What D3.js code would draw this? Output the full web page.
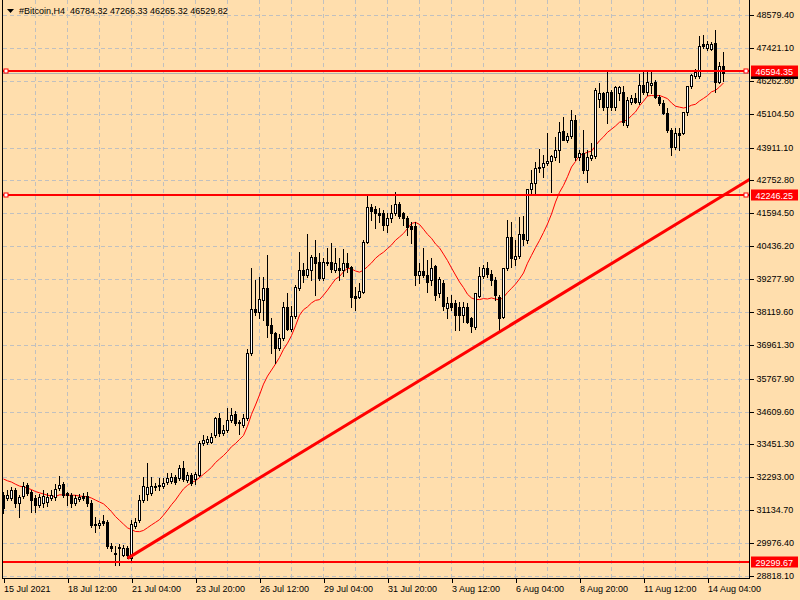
<!DOCTYPE html>
<html><head><meta charset="utf-8">
<script src="https://cdn.jsdelivr.net/npm/d3@7"></script>
<style>
html,body{margin:0;padding:0;background:#FFDEAD;}
svg{display:block;}
text{font-family:"Liberation Sans",Arial,sans-serif;font-size:9px;}
</style>
</head><body>
<svg id="chart" width="800" height="600"></svg>
<script>
const symbol = "#Bitcoin,H4";
const tickLabels = ["15 Jul 2021","18 Jul 12:00","21 Jul 04:00","23 Jul 20:00","26 Jul 12:00","29 Jul 04:00","31 Jul 20:00","3 Aug 12:00","6 Aug 04:00","8 Aug 20:00","11 Aug 12:00","14 Aug 04:00"];
const tickBars = [0,16,32,48,64,80,96,112,128,144,160,176];
const gridBars = [8,16,24,32,40,48,56,64,72,80,88,96,104,112,120,128,136,144,152,160,168,176,184];
const priceTicks = [48579.40,47421.10,46262.80,45104.50,43911.10,42752.80,41594.50,40436.20,39277.90,38119.60,36961.30,35767.90,34609.60,33451.30,32293.00,31134.70,29976.40,28818.10];
const hLines = [46594.35, 42246.25, 29299.67];
const hLineMarked = [true, true, false];
const trendPoints = [{bar:31, price:29440},{bar:124, price:37420}];
const maPeriod = 14;
const preCloses = [32552,32482,32446,32517,32446,32305,32235,32270,32200,32235,32200,32094,32094];

const opens = [31672,31566,31566,31848,31389,31637,32024,31778,31566,31319,31389,31425,31566,31601,31918,32059,31742,31672,31389,31531,31637,31637,31389,30650,30615,30756,30721,29875,29593,29839,29558,29804,29452,30580,30791,31495,31707,31742,31989,31989,31989,32130,32165,32305,32270,32623,32200,32376,32235,32376,33503,33539,33539,33785,34384,33855,33961,34314,34525,34244,34138,34384,36673,38223,38118,38540,38963,37660,37378,36849,37202,38294,37519,37977,38963,39597,39421,39597,40055,39879,39315,39879,39879,39597,39667,39597,39844,39703,38681,38646,38823,40584,41816,41746,41605,41605,41182,41429,41605,41922,41605,41429,41147,41147,39421,39562,39421,39245,39738,38787,39139,38258,38435,38435,38294,38012,38294,37906,37589,38681,39386,39667,39456,39245,38646,37941,39667,40759,39985,40091,40865,40654,42450,42661,43190,43226,43367,43437,43578,43824,44494,44176,44317,44881,43578,43718,43120,43542,43613,45620,45832,45339,45868,45339,45832,45868,44705,45515,45656,45515,46114,45868,46114,46219,45691,45480,45128,44529,43929,44423,44423,45163,46079,46431,46431,47558,47417,47382,47593,46219,46784.32];
const highs = [31778,31848,31953,31918,31672,32130,32094,31848,31672,31707,31848,31742,31848,32059,32341,32130,31778,31742,31672,31707,31742,31778,31495,30896,30791,30967,30791,29980,29875,29945,29910,29875,30791,30861,31672,32305,32799,32305,32094,32270,32270,32446,32446,32376,32729,32870,32482,32446,32482,33574,33785,33750,33855,34419,34560,34138,34736,34736,34631,34314,34525,36815,39667,39245,39350,39350,40126,37906,37414,37343,38470,38787,38329,39069,40231,39844,40865,40126,40654,40196,40020,40372,40548,40372,40020,40337,40196,39738,38998,39139,40654,42239,41922,41852,41781,41711,41605,41887,42345,41993,41640,41499,41288,41288,39844,40372,39949,40020,39773,39350,39245,38646,38717,38540,38470,38470,38435,37941,38787,39703,39773,39879,39597,39350,38700,39667,41358,41288,40654,41464,41499,42450,43120,43402,43859,43648,44423,43648,44282,44810,44986,44423,45233,45057,43824,44529,43824,44071,46008,46184,45868,46642,45938,46079,46079,46079,45691,45762,45832,46502,46572,46642,46642,46290,45762,45585,45304,44599,44599,44599,45163,46079,46502,46677,47840,47875,47664,47629,48051,46924,47266.33];
const lows = [31037,31495,31495,31248,30896,31566,31672,31073,31073,31248,31248,31284,31495,31495,31848,31601,31319,31248,31319,31460,31495,31284,30544,30369,30509,30615,29804,29699,29206,29206,29523,29452,29382,30509,30721,31425,31495,31672,31848,31848,31918,32059,32094,32059,32200,32165,32130,32024,32059,32341,33433,33468,33503,33714,33750,33785,33891,34244,34138,33820,34067,34314,36603,38012,37906,37836,37237,36673,36322,36779,37132,37484,37449,37906,38893,39175,39350,39245,38717,39245,39245,39773,39527,39527,39245,39386,39527,38294,38188,38611,38787,40548,41358,41077,41288,41006,40936,41288,41535,41429,41182,40830,40548,39069,39139,39350,38823,39069,38540,38646,38188,37906,38188,37484,37484,37765,37730,37414,37519,38646,39315,39350,39069,38540,37484,37906,39597,39703,39773,40020,40478,40548,42309,42309,43050,42873,43296,42345,43472,43402,44176,44106,44247,43472,43472,43014,42697,43472,43542,45339,45233,44775,45233,45233,45585,44705,44635,45445,45480,45445,45797,45762,45832,45656,45409,45093,44458,43648,43859,43824,44388,45057,46008,46360,46360,47417,47347,47347,45868,46184,46265.32];
const closes = [31213,31672,31848,31389,31601,31989,31742,31495,31319,31601,31637,31601,31672,31883,32024,31672,31672,31389,31566,31601,31566,31389,30615,30615,30685,30685,29875,29804,29628,29804,29804,29558,30650,30721,31495,31989,31953,31989,31953,32024,32094,32270,32305,32130,32623,32235,32376,32094,32411,33503,33609,33644,33714,34384,33855,33961,34314,34490,34208,34208,34384,36673,38223,38118,38576,38963,37660,37378,36849,37202,38294,37519,37977,38998,39597,39421,39632,40055,39844,39315,39879,39844,39632,39844,39597,39844,39703,38646,38611,38858,40584,41816,41676,41605,41535,41182,41429,41605,41922,41499,41429,41112,41041,39421,39562,39421,39175,39667,38717,39280,38329,38435,38294,38012,38012,38294,37765,37624,38787,39386,39667,39456,39245,38717,37906,39667,40759,40020,40091,40865,40689,42450,42661,43190,43226,43367,43437,43613,43824,44458,44176,44317,44881,43578,43718,43120,43578,43648,45938,45832,45339,45868,45339,46043,46043,44810,45585,45656,45515,46114,45868,46219,46184,45691,45480,45128,44529,43929,44423,44353,45163,46079,46466,46572,47488,47488,47558,47558,46219,46783,46529.82];

const svg = d3.select("#chart");
const plot = {left:2.5, right:749.5, top:0, bottom:578.5};
const n = closes.length;
const x = d3.scaleLinear().domain([0, n-1]).range([3.5, 3.5 + 4*(n-1)]);
const y = d3.scaleLinear().domain([28818.1, 48579.4]).range([576, 15]);
const yp = v => Math.round(y(v)) + 0.5;
const fmt = d3.format(".2f");

svg.append("rect").attr("width",800).attr("height",600).attr("fill","#FFDEAD");

svg.append("defs").append("clipPath").attr("id","clip")
  .append("rect").attr("x",plot.left+0.5).attr("y",0).attr("width",plot.right-plot.left-1).attr("height",plot.bottom);

const grid = svg.append("g").attr("stroke","#c0c0c0").attr("stroke-dasharray","4,3").attr("shape-rendering","crispEdges");
grid.selectAll("line.h").data(priceTicks).join("line").attr("class","h")
  .attr("x1",plot.left).attr("x2",plot.right).attr("y1",d=>yp(d)).attr("y2",d=>yp(d));
grid.selectAll("line.v").data(gridBars).join("line").attr("class","v")
  .attr("x1",d=>x(d)).attr("x2",d=>x(d)).attr("y1",plot.top).attr("y2",plot.bottom);

const g = svg.append("g").attr("clip-path","url(#clip)");

// bid line
g.append("line").attr("x1",plot.left).attr("x2",plot.right)
  .attr("y1",yp(closes[n-1])).attr("y2",yp(closes[n-1]))
  .attr("stroke","#b0b0b0").attr("shape-rendering","crispEdges");

// moving average of closes
const all = preCloses.concat(closes);
const ma = closes.map((c,i)=> d3.mean(all.slice(i+preCloses.length-maPeriod+1, i+preCloses.length+1)));
g.append("path").datum(ma)
  .attr("d", d3.line().x((d,i)=>x(i)).y(d=>y(d)))
  .attr("fill","none").attr("stroke","#ff0000").attr("stroke-width",1);

// candles
const idx = d3.range(n);
const cg = g.append("g").attr("shape-rendering","crispEdges");
cg.selectAll("line.w").data(idx).join("line").attr("class","w")
  .attr("x1",i=>x(i)).attr("x2",i=>x(i))
  .attr("y1",i=>Math.round(y(highs[i]))).attr("y2",i=>Math.round(y(lows[i]))+1)
  .attr("stroke","#000");
cg.selectAll("rect.b").data(idx).join("rect").attr("class","b")
  .attr("x",i=>x(i)-1).attr("width",2)
  .attr("y",i=>Math.round(y(Math.max(opens[i],closes[i])))+0.5)
  .attr("height",i=>Math.max(0, Math.round(y(Math.min(opens[i],closes[i]))) - Math.round(y(Math.max(opens[i],closes[i])))))
  .attr("fill",i=> closes[i]>=opens[i] ? "#ffffff" : "#000000")
  .attr("stroke","#000").attr("stroke-width",1);

// horizontal lines
g.selectAll("line.hl").data(hLines).join("line").attr("class","hl")
  .attr("x1",plot.left).attr("x2",plot.right)
  .attr("y1",d=>Math.round(y(d))).attr("y2",d=>Math.round(y(d)))
  .attr("stroke","#ff0000").attr("stroke-width",2);

// trend line (ray)
const tp0 = trendPoints[0], tp1 = trendPoints[1];
const slope = (tp1.price - tp0.price)/(tp1.bar - tp0.bar);
const endBar = x.invert(plot.right + 2);
g.append("line")
  .attr("x1",x(tp0.bar)).attr("y1",y(tp0.price))
  .attr("x2",x(endBar)).attr("y2",y(tp0.price + slope*(endBar - tp0.bar)))
  .attr("stroke","#ff0000").attr("stroke-width",3);

// markers on selected lines
const marked = hLines.filter((d,i)=>hLineMarked[i]);
[6, 746].forEach(mx=>{
  svg.selectAll(null).data(marked).join("rect")
    .attr("x",mx-2).attr("y",d=>Math.round(y(d))-2).attr("width",4).attr("height",4)
    .attr("fill","#ffffff").attr("stroke","#ff0000").attr("stroke-width",1);
});

// frame
const frame = svg.append("g").attr("stroke","#000").attr("shape-rendering","crispEdges");
frame.append("line").attr("x1",plot.left).attr("x2",plot.left).attr("y1",0).attr("y2",plot.bottom);
frame.append("line").attr("x1",plot.right).attr("x2",plot.right).attr("y1",0).attr("y2",plot.bottom);
frame.append("line").attr("x1",plot.left).attr("x2",plot.right).attr("y1",plot.bottom).attr("y2",plot.bottom);

// right axis
const yAxis = d3.axisRight(y).tickValues(priceTicks).tickFormat(fmt).tickSize(4).tickPadding(3);
const ya = svg.append("g").attr("transform",`translate(${plot.right},0)`).call(yAxis);
ya.select(".domain").remove();
ya.selectAll(".tick").attr("transform",d=>`translate(0,${yp(d)})`);
ya.selectAll(".tick line").attr("stroke","#000").attr("shape-rendering","crispEdges");
ya.selectAll(".tick text").attr("fill","#000").attr("font-family",'"Liberation Sans",Arial,sans-serif').attr("font-size",9);

// bottom axis
const xAxis = d3.axisBottom(x).tickValues(tickBars).tickFormat((d,i)=>tickLabels[i]).tickSize(4).tickPadding(3);
const xa = svg.append("g").attr("transform",`translate(0,${plot.bottom})`).call(xAxis);
xa.select(".domain").remove();
xa.selectAll(".tick line").attr("stroke","#000").attr("shape-rendering","crispEdges");
xa.selectAll(".tick text").attr("fill","#000").attr("text-anchor","start").attr("x",0)
  .attr("font-family",'"Liberation Sans",Arial,sans-serif').attr("font-size",9);

// price labels (current bid label sits hidden beneath the line label)
const lastC = closes[n-1];
svg.append("rect").attr("x",751).attr("y",Math.round(y(lastC))-5).attr("width",47).attr("height",11).attr("fill","#000");
hLines.forEach(p=>{
  const yy = Math.round(y(p));
  svg.append("rect").attr("x",751).attr("y",yy-5.5).attr("width",47).attr("height",11).attr("fill","#ff0000");
  svg.append("text").attr("x",755.5).attr("y",yy+3.5).attr("fill","#fff").text(fmt(p));
});

// title
svg.append("path").attr("d","M7,9 L14,9 L10.5,13 Z").attr("fill","#000");
svg.append("text").attr("x",19).attr("y",14).attr("fill","#000").style("white-space","pre")
  .text(`${symbol}  ${fmt(opens[n-1])} ${fmt(highs[n-1])} ${fmt(lows[n-1])} ${fmt(closes[n-1])}`);
</script>
</body></html>
